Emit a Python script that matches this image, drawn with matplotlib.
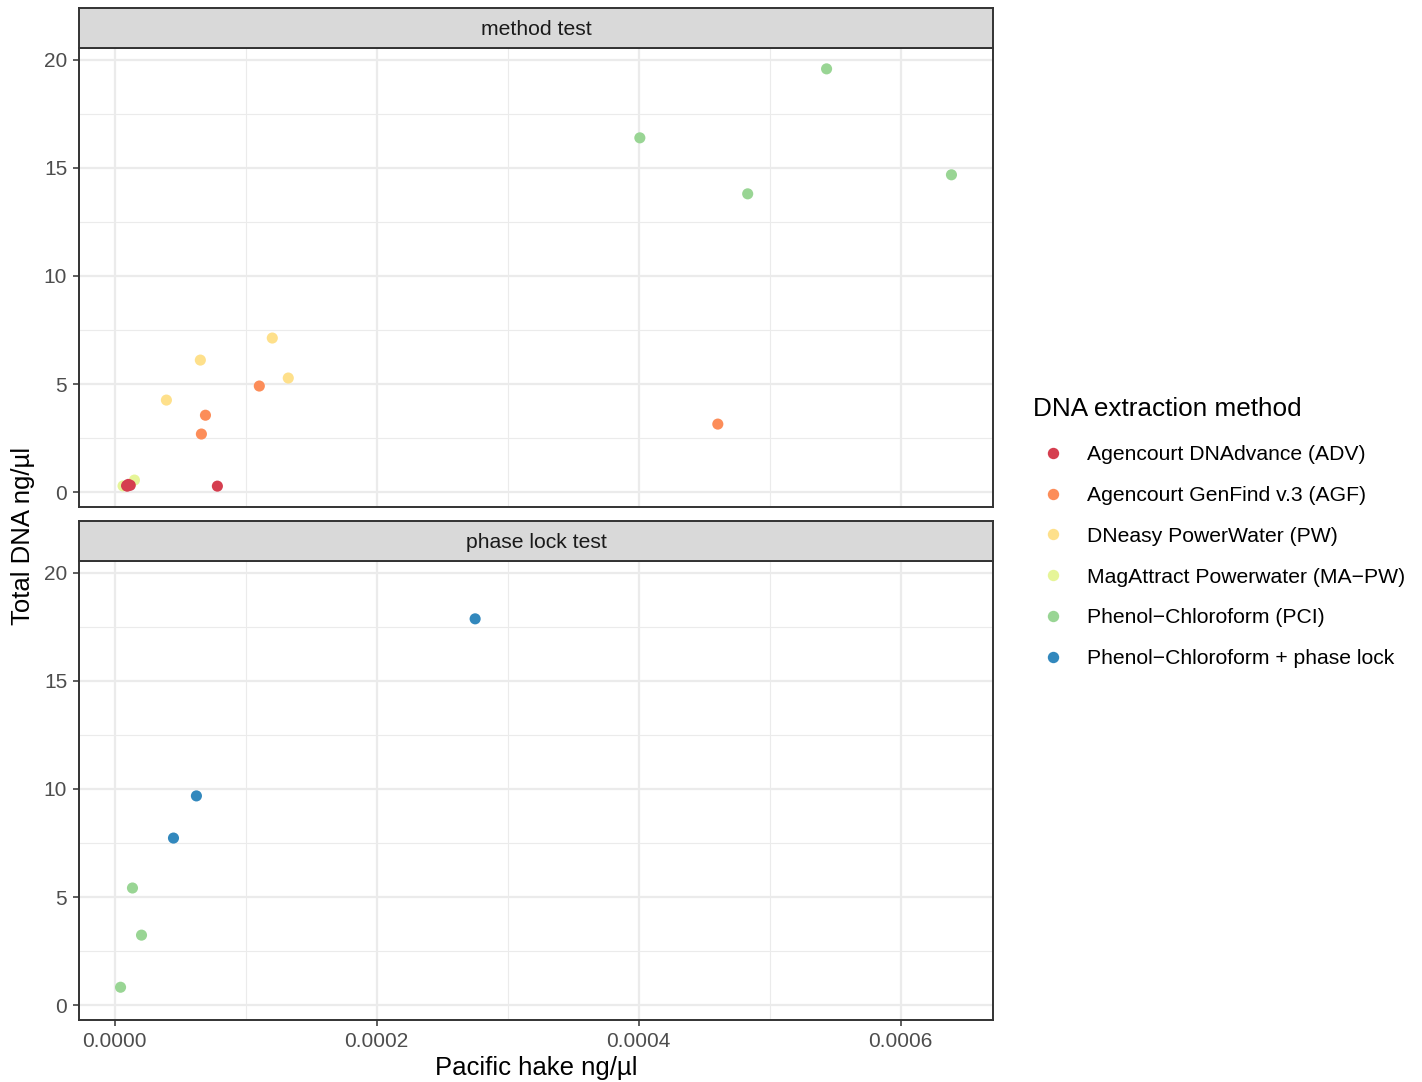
import matplotlib.pyplot as plt
from matplotlib.lines import Line2D
from matplotlib.ticker import MultipleLocator, FormatStrFormatter

plt.rcParams['font.family'] = ['Liberation Sans', 'DejaVu Sans']

methods = ['Agencourt DNAdvance (ADV)', 'Agencourt GenFind v.3 (AGF)',
           'DNeasy PowerWater (PW)', 'MagAttract Powerwater (MA\u2212PW)',
           'Phenol\u2212Chloroform (PCI)', 'Phenol\u2212Chloroform + phase lock']
colors = ['#D53E4F', '#FC8D59', '#FEE08B', '#E6F598', '#99D594', '#3288BD']

# method test panel
mapw_x = [0.0000152, 0.0000065]
mapw_y = [0.56, 0.29]
adv_x = [0.0000092, 0.0000105, 0.0000120, 0.0000098, 0.0000785]
adv_y = [0.30, 0.36, 0.32, 0.28, 0.28]
agf_x = [0.0001105, 0.0000694, 0.0000663, 0.0004604]
agf_y = [4.91, 3.56, 2.69, 3.15]
pw_x = [0.0001204, 0.0000655, 0.0001326, 0.0000396]
pw_y = [7.13, 6.11, 5.28, 4.26]
pci_x = [0.0005434, 0.0004009, 0.0004832, 0.0006387]
pci_y = [19.58, 16.39, 13.80, 14.68]

# phase lock test panel
pl_x = [0.0002752, 0.0000625, 0.0000450]
pl_y = [17.87, 9.68, 7.73]
pci2_x = [0.0000137, 0.0000206, 0.0000046]
pci2_y = [5.42, 3.24, 0.83]

panels = [
    ('method test', [(mapw_x, mapw_y, 3), (adv_x, adv_y, 0), (agf_x, agf_y, 1),
                     (pw_x, pw_y, 2), (pci_x, pci_y, 4)]),
    ('phase lock test', [(pci2_x, pci2_y, 4), (pl_x, pl_y, 5)]),
]

allx = mapw_x + adv_x + agf_x + pw_x + pci_x + pl_x + pci2_x
ally = mapw_y + adv_y + agf_y + pw_y + pci_y + pl_y + pci2_y
xr = max(allx) - min(allx)
yr = max(ally) - min(ally)
xlim = (min(allx) - 0.05 * xr, max(allx) + 0.05 * xr)
ylim = (min(ally) - 0.05 * yr, max(ally) + 0.05 * yr)

W, H = 1422, 1082
fig = plt.figure(figsize=(W / 100, H / 100), dpi=100)

left = 79 / W
width = 914 / W
ph = 459 / H
sh = 40 / H
panel_bottoms = [(H - 507) / H, (H - 1020) / H]
strip_bottoms = [(H - 48) / H, (H - 561) / H]

border = '#333333'
for i, (title, groups) in enumerate(panels):
    ax = fig.add_axes([left, panel_bottoms[i], width, ph])
    for xs, ys, ci in groups:
        ax.scatter(xs, ys, s=64, color=colors[ci], edgecolors='none', zorder=3)
    ax.set_xlim(xlim)
    ax.set_ylim(ylim)
    ax.xaxis.set_major_locator(MultipleLocator(0.0002))
    ax.xaxis.set_minor_locator(MultipleLocator(0.0001))
    ax.yaxis.set_major_locator(MultipleLocator(5))
    ax.yaxis.set_minor_locator(MultipleLocator(2.5))
    ax.xaxis.set_major_formatter(FormatStrFormatter('%.4f'))
    ax.grid(which='major', color='#EBEBEB', lw=1.6)
    ax.grid(which='minor', color='#EBEBEB', lw=0.8)
    ax.set_axisbelow(True)
    for sp in ax.spines.values():
        sp.set_color(border)
        sp.set_linewidth(1.4)
    ax.tick_params(which='major', length=4.5, width=1.1, color=border,
                   labelsize=15, labelcolor='#4D4D4D', pad=4)
    ax.tick_params(which='minor', length=0)
    if i == 0:
        ax.tick_params(axis='x', which='both', bottom=False, labelbottom=False)

    sax = fig.add_axes([left, strip_bottoms[i], width, sh])
    sax.set_xticks([])
    sax.set_yticks([])
    sax.set_facecolor('#D9D9D9')
    for sp in sax.spines.values():
        sp.set_color(border)
        sp.set_linewidth(1.4)
    sax.text(0.5, 0.47, title, ha='center', va='center', fontsize=15.2,
             color='#1A1A1A', transform=sax.transAxes)

fig.text(536 / W, 1 - 1068 / H, 'Pacific hake ng/\u00b5l', ha='center', va='center',
         fontsize=18.5)
fig.text(23 / W, 1 - 536 / H, 'Total DNA ng/\u00b5l', ha='center', va='center',
         rotation=90, fontsize=18.5)

handles = [Line2D([], [], ls='none', marker='o', markersize=8.2, color=c,
                  markeredgecolor='none') for c in colors]
fig.legend(handles, methods, loc='upper left', bbox_to_anchor=(1014 / W, 1 - 378 / H),
           frameon=False, title='DNA extraction method', title_fontsize=18.8,
           fontsize=15.2, labelspacing=1.03, handletextpad=0.66, handlelength=1.9,
           alignment='left', borderpad=0.4)
fig.legends[0]._legend_box.sep = 17.5

fig.savefig('out.png', dpi=100)
